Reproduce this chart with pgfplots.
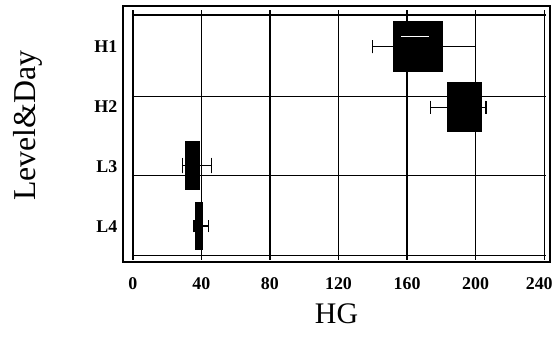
\documentclass[border=0pt]{standalone}
\usepackage{fontspec}
\setmainfont{Liberation Serif}
\usepackage{pgfplots}
\pgfplotsset{compat=1.18}
\usepgfplotslibrary{statistics}
\begin{document}
\begin{tikzpicture}
\begin{axis}[
  scale only axis,
  width=428bp, height=256bp,
  xmin=-5.8, xmax=243.5,
  ymin=0.417, ymax=4.68,
  axis line style={line width=1.8pt},
  xtick={0,40,80,120,160,200,240},
  xticklabels={0,40,80,120,160,200,{\hspace*{-10bp}240}},
  ytick={1,2,3,4},
  yticklabels={L4,L3,H2,H1},
  major tick length=0pt,
  ticklabel style={font=\fontsize{18}{21}\selectfont\bfseries},
  xticklabel style={yshift=-12bp},
  yticklabel style={xshift=-2bp},
  xlabel={HG},
  ylabel={Level\&Day},
  xlabel style={font=\fontsize{30}{34}\selectfont, yshift=-8bp},
  ylabel style={font=\fontsize{32}{36}\selectfont, yshift=45bp, xshift=8bp},
  boxplot/draw direction=x,
  clip=false,
]
% inner grid
\foreach \xx in {0,40,80,120,160,200,240} {
  \edef\tmp{\noexpand\draw[line width=1.5pt] (axis cs:\xx,0.45) -- (axis cs:\xx,4.62);}
  \tmp
}
\foreach \yy in {0.517,1.85,3.17,4.53} {
  \edef\tmp{\noexpand\draw[line width=1.5pt] (axis cs:-0.5,\yy) -- (axis cs:241,\yy);}
  \tmp
}
% H1
\addplot+[boxplot prepared={draw position=4, box extend=0.82, whisker extend=0.22,
  lower whisker=140, lower quartile=151.9, median=165, upper quartile=180.5, upper whisker=200},
  draw=black, fill=black, line width=1.4pt, mark=none] coordinates {};
% H2
\addplot+[boxplot prepared={draw position=2.99, box extend=0.81, whisker extend=0.22,
  lower whisker=173.7, lower quartile=183.4, median=193, upper quartile=203, upper whisker=206},
  draw=black, fill=black, line width=1.4pt, mark=none] coordinates {};
% L3
\addplot+[boxplot prepared={draw position=2.02, box extend=0.8, whisker extend=0.26,
  lower whisker=29, lower quartile=31, median=35, upper quartile=39, upper whisker=46},
  draw=black, fill=black, line width=1.4pt, mark=none] coordinates {};
% L4
\addplot+[boxplot prepared={draw position=1.01, box extend=0.78, whisker extend=0.2,
  lower whisker=35.6, lower quartile=36.7, median=38.5, upper quartile=40.5, upper whisker=44},
  draw=black, fill=black, line width=1.4pt, mark=none] coordinates {};
% white mark in H1 box
\addplot[white, line width=1.4pt, mark=none] coordinates {(156.7,4.17) (173,4.17)};
\end{axis}
\path (current axis.south west) ++(-123bp,-75bp) coordinate (bbA);
\path (current axis.north east) ++(5bp,6bp) coordinate (bbB);
\useasboundingbox (bbA) rectangle (bbB);
\end{tikzpicture}
\end{document}
